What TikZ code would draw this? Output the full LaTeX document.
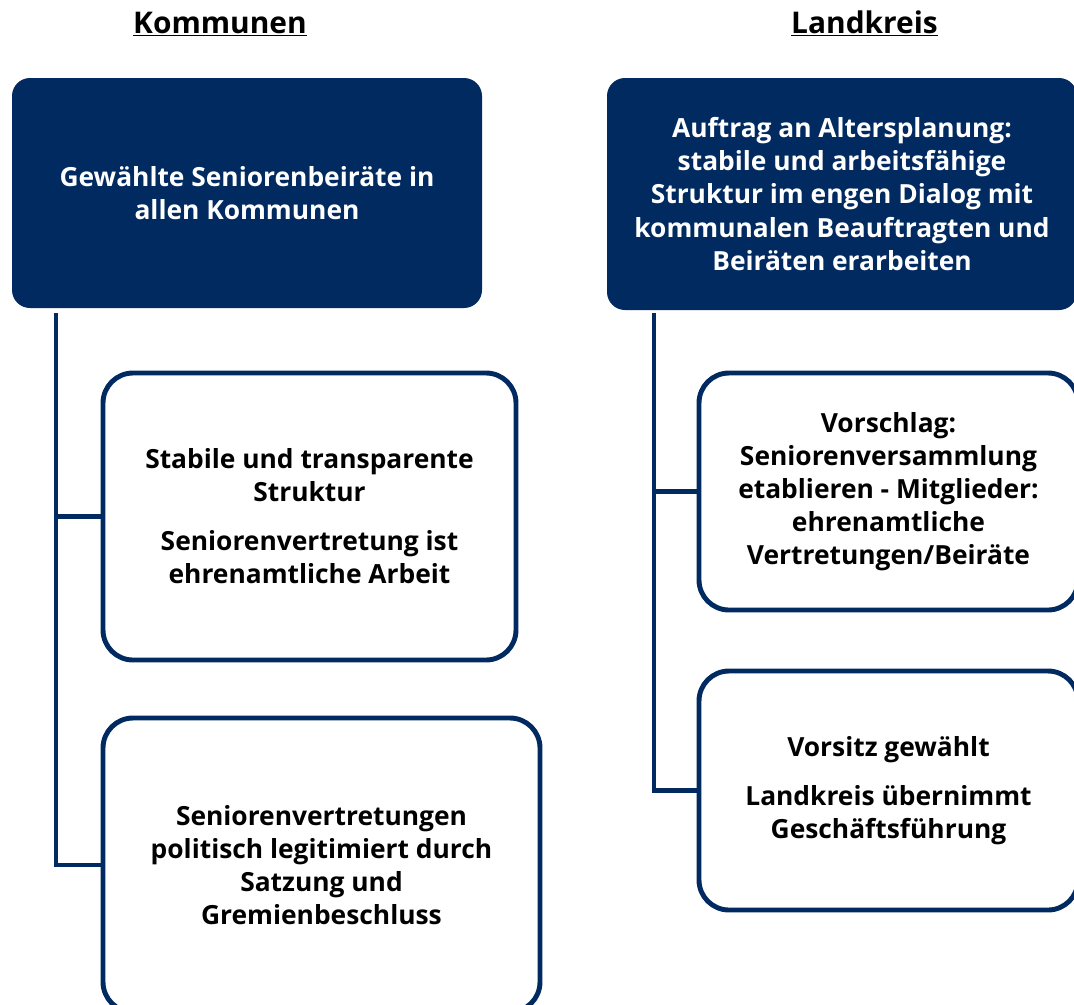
\documentclass[tikz,border=0pt]{standalone}
\usepackage{fontspec}
\setmainfont{Open Sans}
\usepackage{xcolor}
\usetikzlibrary{positioning,calc}
\definecolor{navy}{HTML}{002A60}

\begin{document}
\begin{tikzpicture}[
  font=\fontsize{15}{18.8}\selectfont\bfseries,
  head/.style={fill=navy, text=white, rounded corners=0.36cm, align=center, inner sep=2pt},
  item/.style={draw=navy, line width=2.8pt, fill=white, rounded corners=0.6cm, align=center, inner sep=2pt},
  ttl/.style={font=\fontsize{17}{20}\selectfont\bfseries, anchor=base},
  spine/.style={draw=navy, line width=2.8pt}]
\useasboundingbox (0,0) rectangle (21.48,-20.08);
% column titles
\node[ttl] (tK) at (4.4,-0.66) {\underline{Kommunen}};
\node[ttl] (tL) at (17.29,-0.66) {\underline{Landkreis}};
% top boxes
\node[head, minimum width=9.4cm, minimum height=4.6cm] (K0) at (4.94,-3.86)
  {Gewählte Seniorenbeiräte in\\allen Kommunen};
\node[head, minimum width=9.4cm, minimum height=4.64cm] (L0) at (16.84,-3.88)
  {Auftrag an Altersplanung:\\stabile und arbeitsfähige\\Struktur im engen Dialog mit\\kommunalen Beauftragten und\\Beiräten erarbeiten};
% left column
\node[item, minimum width=8.26cm, minimum height=5.74cm] (K1) at (6.19,-10.33)
  {Stabile und transparente\\Struktur\\[0.32cm]Seniorenvertretung ist\\ehrenamtliche Arbeit};
\node[item, minimum width=8.74cm, minimum height=5.88cm] (K2) at (6.43,-17.3)
  {Seniorenvertretungen\\politisch legitimiert durch\\Satzung und\\Gremienbeschluss};
% right column
\node[item, minimum width=7.58cm, minimum height=4.74cm] (L1) at (17.77,-9.83)
  {Vorschlag:\\Seniorenversammlung\\etablieren - Mitglieder:\\ehrenamtliche\\Vertretungen/Beiräte};
\node[item, minimum width=7.58cm, minimum height=4.78cm] (L2) at (17.77,-15.81)
  {Vorsitz gewählt\\[0.32cm]Landkreis übernimmt\\Geschäftsführung};
% connectors
\coordinate (kS) at (1.12,-6.26);
\coordinate (lS) at (13.08,-6.26);
\draw[spine] (kS) |- (K2.west);
\draw[spine] (kS |- K1.west) -- (K1.west);
\draw[spine] (lS) |- (L2.west);
\draw[spine] (lS |- L1.west) -- (L1.west);
\end{tikzpicture}
\end{document}
